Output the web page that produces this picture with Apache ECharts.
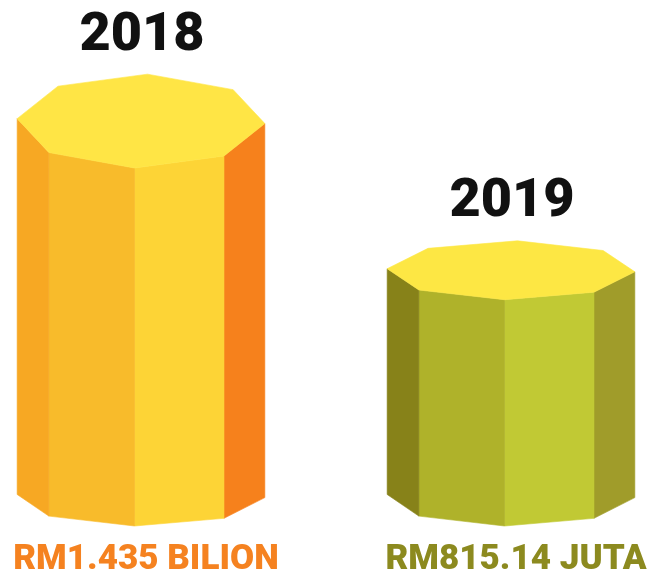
<!DOCTYPE html>
<html>
<head>
    <meta charset="utf-8">
    <title>2018 vs 2019</title>
    <script src="https://cdn.jsdelivr.net/npm/echarts@6/dist/echarts.min.js"></script>
    <style>
        html, body { margin: 0; padding: 0; background: #fff; }
        #chart { width: 656px; height: 577px; }
    </style>
</head>
<body>
<div id="chart"></div>
<script>
    // data (RM juta)
    var years = ['2018', '2019'];
    var values = [1435, 815.14];
    var valueLabels = ['RM1.435 BILION', 'RM815.14 JUTA'];

    // look of each column: faces left -> right, then top
    var faceColors = [
        ['#F7A823', '#F8BB2B', '#FDD436', '#F6811C'],
        ['#878219', '#AFB22A', '#C1C934', '#A09C2A']
    ];
    var topColors = ['#FFE545', '#FDE744'];
    var labelColors = ['#F58220', '#8C8A1F'];
    var capDepth = [47, 29.5];   // half depth of the top octagon, px
    var baseDepth = 30;
    var halfWidth = 124;
    var yMin = -250;

    var myChart = echarts.init(document.getElementById('chart'));

    function renderItem(params, api) {
        var i = params.dataIndex;
        var top = api.coord([api.value(0), api.value(1)]);
        var base = api.coord([api.value(0), yMin]);
        var cx = top[0];
        var rot = 3 * Math.PI / 180;
        var rt = capDepth[i];
        var tcY = top[1] - rt * Math.sin(Math.PI / 2 + rot);
        var bcY = base[1] - baseDepth * Math.sin(Math.PI / 2 + rot);
        var tp = [], bp = [];
        for (var k = 0; k < 8; k++) {
            var a = k * Math.PI / 4 + rot;
            tp.push([cx + halfWidth * Math.cos(a), tcY + rt * Math.sin(a)]);
            bp.push([cx + halfWidth * Math.cos(a), bcY + baseDepth * Math.sin(a)]);
        }
        var children = [];
        // visible side faces: k=0 (right) .. k=3 (left)
        for (var k = 0; k < 4; k++) {
            var col = faceColors[i][3 - k];
            children.push({
                type: 'polygon',
                shape: { points: [tp[k], tp[k + 1], bp[k + 1], bp[k]] },
                style: { fill: col, stroke: col, lineWidth: 0.6 }
            });
        }
        children.push({
            type: 'polygon',
            shape: { points: tp },
            style: { fill: topColors[i], stroke: topColors[i], lineWidth: 0.6 }
        });
        children.push({
            type: 'text',
            style: {
                text: years[i],
                x: cx + 1,
                y: tcY - rt - 38,
                align: 'center',
                verticalAlign: 'middle',
                fill: '#111111',
                font: '900 54px Roboto'
            }
        });
        children.push({
            type: 'text',
            style: {
                text: valueLabels[i],
                x: cx + 5,
                y: base[1] + 34,
                align: 'center',
                verticalAlign: 'middle',
                fill: labelColors[i],
                font: '900 35px Roboto'
            }
        });
        return { type: 'group', children: children };
    }

    myChart.setOption({
        animation: false,
        grid: { left: 141, right: 145, top: 48, bottom: 51 },
        xAxis: {
            type: 'category',
            data: years,
            boundaryGap: false,
            show: false
        },
        yAxis: {
            type: 'value',
            min: yMin,
            max: 2000,
            show: false
        },
        series: [{
            type: 'custom',
            renderItem: renderItem,
            clip: false,
            data: years.map(function (y, i) { return [i, values[i]]; })
        }]
    });
</script>
</body>
</html>
